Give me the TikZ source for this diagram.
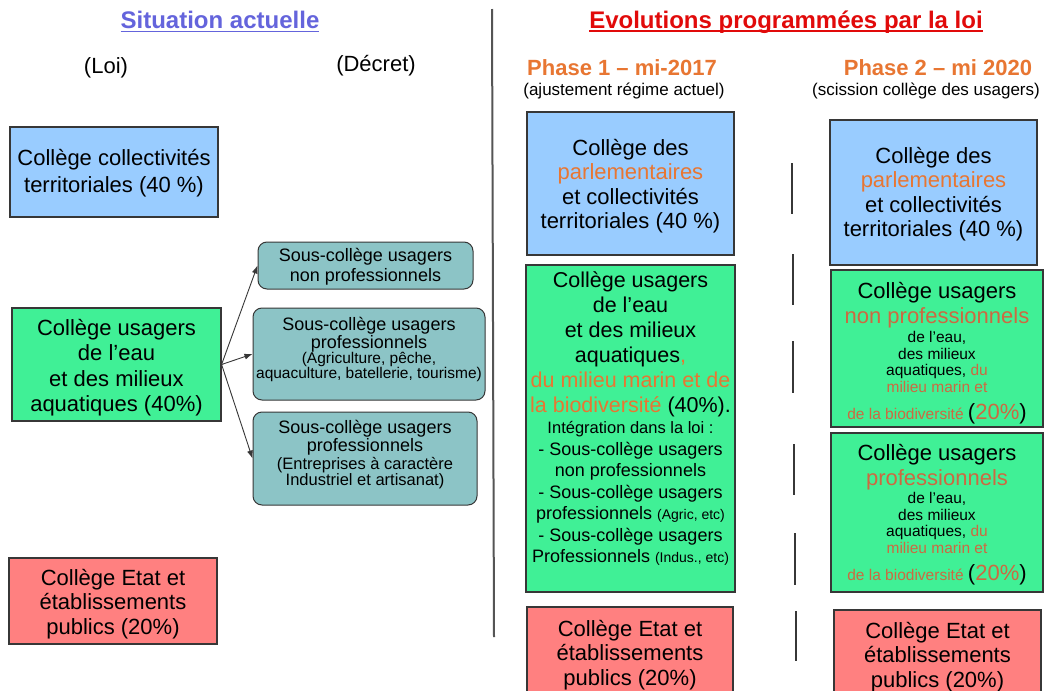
\documentclass[tikz,border=0pt]{standalone}
\usepackage{fontspec}
\setmainfont{Liberation Sans}
\usetikzlibrary{shapes,arrows.meta}
\setlength{\lineskiplimit}{-100pt}
\definecolor{ciel}{RGB}{153,204,255}
\definecolor{menthe}{RGB}{64,240,150}
\definecolor{saumon}{RGB}{255,128,128}
\definecolor{sarcelle}{RGB}{140,196,198}
\definecolor{orangeloi}{RGB}{232,118,50}
\definecolor{brique}{RGB}{205,105,65}
\definecolor{bleutitre}{RGB}{100,100,220}
\definecolor{rougetitre}{RGB}{225,10,10}
\definecolor{trait}{RGB}{55,55,55}
\newsavebox{\titrebox}
\newcommand{\souligne}[1]{\sbox{\titrebox}{#1}\rlap{\rule[-3.5pt]{\wd\titrebox}{1.6pt}}\usebox{\titrebox}}
\newcommand{\boite}[4]{\parbox[c][#1][t]{#2}{\centering\vspace*{#3}#4\par}}
\tikzstyle{college} = [rectangle, draw=trait, line width=1.2pt, inner sep=0pt]
\tikzstyle{bleu} = [college, fill=ciel]
\tikzstyle{vert} = [college, fill=menthe]
\tikzstyle{rouge} = [college, fill=saumon]
\tikzstyle{souscol} = [college, fill=sarcelle, rounded corners=9pt, line width=1pt]
\tikzstyle{titre} = [font=\bfseries\fontsize{24}{28}\selectfont]
\tikzstyle{entete} = [font=\fontsize{22}{26}\selectfont]
\tikzstyle{phase} = [font=\bfseries\fontsize{22}{26}\selectfont, text=orangeloi]
\tikzstyle{precision} = [font=\fontsize{17}{20}\selectfont]
\tikzstyle{line} = [draw=trait, line width=0.9pt, -{Latex[length=8pt,width=6pt]}]
\tikzstyle{separation} = [draw=trait!85, line width=2pt]
\tikzstyle{tiret} = [draw=trait, line width=2.5pt]

\begin{document}
\begin{tikzpicture}[x=1pt, y=-1pt]
	\path [use as bounding box, clip] (0,0) rectangle (1061,691);
	\fill [white] (0,0) rectangle (1061,691);

	\node [titre, text=bleutitre] (situation) at (220,22) {\souligne{Situation actuelle}};
	\node [entete] (loi) at (106,68) {(Loi)};
	\node [entete] (decret) at (376,66) {(Décret)};
	\node [titre, text=rougetitre] (evolutions) at (786,22) {\souligne{Evolutions programmées par la loi}};
	\node [phase] (phaseun) at (622,68) {Phase 1 – mi-2017};
	\node [precision] (ajustement) at (624,91) {(ajustement régime actuel)};
	\node [phase] (phasedeux) at (938,68) {Phase 2 – mi 2020};
	\node [precision] (scission) at (926,91) {(scission collège des usagers)};

	\node [bleu] (collectivites) at (114,172) {\boite{90pt}{208pt}{22pt}{\fontsize{22}{27}\selectfont Collège collectivités\\territoriales (40 \%)}};
	\node [vert] (usagers) at (116.5,364.5) {\boite{113pt}{209pt}{11pt}{\fontsize{22}{25.5}\selectfont Collège usagers\\de l’eau\\et des milieux\\aquatiques (40\%)}};
	\node [rouge] (etat) at (113,601) {\boite{86pt}{208pt}{11pt}{\fontsize{22}{24.5}\selectfont Collège Etat et\\établissements\\publics (20\%)}};

	\node [souscol] (nonpro) at (365.5,265.5) {\boite{47pt}{215pt}{6pt}{\fontsize{18}{20}\selectfont Sous-collège usagers\\non professionnels}};
	\node [souscol] (proagri) at (369,354) {\boite{92pt}{232pt}{9pt}{\fontsize{18}{16.7}\selectfont Sous-collège usagers\\professionnels\\\fontsize{15.5}{15.7}\selectfont (Agriculture, pêche,\\\fontsize{15.5}{15}\selectfont aquaculture, batellerie, tourisme)}};
	\node [souscol] (proindus) at (365,458.5) {\boite{93pt}{224pt}{8.5pt}{\fontsize{18}{16.6}\selectfont Sous-collège usagers\\professionnels\\\fontsize{16.5}{17.5}\selectfont (Entreprises à caractère\\\fontsize{16.5}{16.6}\selectfont Industriel et artisanat)}};

	\node [bleu] (parlementun) at (630.5,183.5) {\boite{143pt}{207pt}{27pt}{\fontsize{22}{24.5}\selectfont Collège des\\\textcolor{orangeloi}{parlementaires}\\et collectivités\\territoriales (40 \%)}};
	\node [vert] (usagersun) at (630.5,428.5) {\boite{327pt}{209pt}{7pt}{\fontsize{21.5}{25}\selectfont Collège usagers\\de l’eau\\et des milieux\\aquatiques\textcolor{orangeloi}{,}\\\textcolor{orangeloi}{du milieu marin et de}\\\textcolor{orangeloi}{la biodiversité} (40\%).\\\fontsize{16.5}{21}\selectfont Intégration dans la loi :\\\fontsize{18}{21.5}\selectfont - Sous-collège usagers\\non professionnels\\- Sous-collège usagers\\professionnels {\fontsize{14}{17}\selectfont (Agric, etc)}\\- Sous-collège usagers\\Professionnels {\fontsize{14}{17}\selectfont (Indus., etc)}}};
	\node [rouge] (etatun) at (630,649.5) {\boite{85pt}{206pt}{13pt}{\fontsize{22}{24.5}\selectfont Collège Etat et\\établissements\\publics (20\%)}};

	\node [bleu] (parlementdeux) at (933.5,192.5) {\boite{145pt}{207pt}{27pt}{\fontsize{22}{24.5}\selectfont Collège des\\\textcolor{orangeloi}{parlementaires}\\et collectivités\\territoriales (40 \%)}};
	\node [vert] (nonprodeux) at (937,348.5) {\boite{157pt}{212pt}{12pt}{\fontsize{22}{25}\selectfont Collège usagers\\\textcolor{brique}{non professionnels}\\\fontsize{15.5}{19.5}\selectfont de l’eau,\\\fontsize{15.5}{16.5}\selectfont des milieux\\aquatiques, \textcolor{brique}{du}\\\textcolor{brique}{milieu marin et}\\\fontsize{15.5}{27.5}\selectfont\textcolor{brique}{de la biodiversité} {\fontsize{22}{27.5}\selectfont(\textcolor{brique}{20\%})}}};
	\node [vert] (prodeux) at (937,512.5) {\boite{159pt}{212pt}{11pt}{\fontsize{22}{25}\selectfont Collège usagers\\\textcolor{brique}{professionnels}\\\fontsize{15.5}{18.5}\selectfont de l’eau,\\\fontsize{15.5}{16.5}\selectfont des milieux\\aquatiques, \textcolor{brique}{du}\\\textcolor{brique}{milieu marin et}\\\fontsize{15.5}{27.5}\selectfont\textcolor{brique}{de la biodiversité} {\fontsize{22}{27.5}\selectfont(\textcolor{brique}{20\%})}}};
	\node [rouge] (etatdeux) at (937.5,651.5) {\boite{83pt}{207pt}{12pt}{\fontsize{22}{24.5}\selectfont Collège Etat et\\établissements\\publics (20\%)}};

	\path [line] (usagers.east) -- (nonpro.west);
	\path [line] (usagers.east) -- (proagri.west);
	\path [line] (usagers.east) -- (proindus.west);

	\draw [separation] (492,9) -- (494,637);
	\draw [tiret] (792,163) -- (792,214);
	\draw [tiret] (793,254) -- (793,305);
	\draw [tiret] (793,341) -- (793,393);
	\draw [tiret] (794,444) -- (794,495);
	\draw [tiret] (795,533) -- (795,585);
	\draw [tiret] (796,611) -- (796,661);
\end{tikzpicture}
\end{document}
